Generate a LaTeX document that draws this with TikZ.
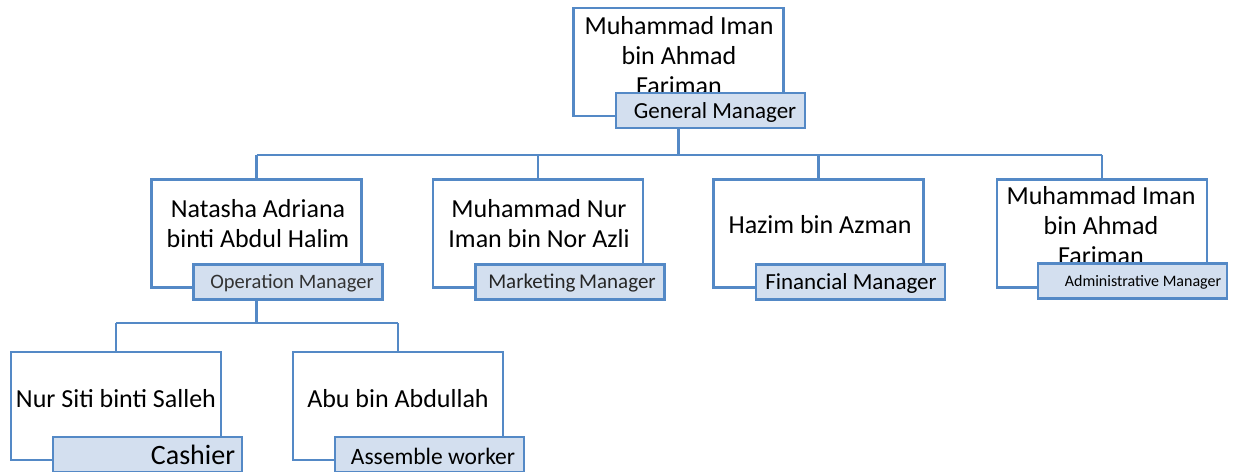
\documentclass[tikz,border=0pt]{standalone}
\usepackage{fontspec}
\setmainfont{Carlito}
\definecolor{bblue}{RGB}{84,137,198}
\definecolor{lfill}{RGB}{211,223,239}
\begin{document}
\begin{tikzpicture}[x=1pt,y=-1pt,
  namebox/.style={draw=bblue, line width=2.6pt, fill=white, minimum width=210pt, minimum height=108pt, inner sep=0pt},
  rolebox/.style={draw=bblue, line width=2.6pt, fill=lfill, minimum width=189pt, minimum height=35pt, inner sep=0pt},
  nametext/.style={font=\fontsize{26}{30}\selectfont, align=center, inner sep=0pt, anchor=base},
  roletext/.style={inner sep=0pt, anchor=base},
  link/.style={draw=bblue, line width=2.6pt}]
\useasboundingbox (0,0) rectangle (1233,471);
\fill[white] (0,0) rectangle (1233,471);
\coordinate (bus1) at (0,155);
\coordinate (bus2) at (0,323);
% level 1
\node[namebox] (gm) at (678.5,62) {};
\node[nametext] (gmt) at (679,94) {Muhammad Iman\\bin Ahmad\\Fariman};
\node[rolebox] (gmr) at (710.5,110.5) {};
\node[roletext, font=\fontsize{23}{28}\selectfont] (gmrt) at (715,118) {General Manager};
% level 2
\node[namebox] (op) at (256.5,233.5) {};
\node[nametext] (opt) at (258,247) {Natasha Adriana\\binti Abdul Halim};
\node[rolebox] (opr) at (288,282) {};
\node[roletext, font=\fontsize{20.5}{25}\selectfont, text=black!80] (oprt) at (292,288) {Operation Manager};
\node[namebox] (mk) at (538,233.5) {};
\node[nametext] (mkt) at (539,247) {Muhammad Nur\\Iman bin Nor Azli};
\node[rolebox] (mkr) at (570,282) {};
\node[roletext, font=\fontsize{21}{25}\selectfont, text=black!85] (mkrt) at (572,288) {Marketing\kern-1pt\ Manager};
\node[namebox] (fn) at (818.5,233.5) {};
\node[nametext] (fnt) at (820,233) {Hazim bin Azman};
\node[rolebox] (fnr) at (850.5,282) {};
\node[roletext, font=\fontsize{23}{28}\selectfont] (fnrt) at (851,289) {Financial Manager};
\node[namebox] (ad) at (1102,233.5) {};
\node[nametext] (adt) at (1101,264.5) {Muhammad Iman\\bin Ahmad\\Fariman};
\node[rolebox] (adr) at (1132.5,281) {};
\node[roletext, font=\fontsize{16}{20}\selectfont] (adrt) at (1143,286) {Administrative Manager};
% level 3
\node[namebox] (ca) at (116,406) {};
\node[nametext] (cat) at (116,407) {Nur Siti binti Salleh};
\node[rolebox] (car) at (147.5,454.5) {};
\node[roletext, font=\fontsize{28}{32}\selectfont] (cart) at (193,464) {Cashier};
\node[namebox] (ab) at (398,406) {};
\node[nametext] (abt) at (398,407) {Abu bin Abdullah};
\node[rolebox] (abr) at (429.5,454.5) {};
\node[roletext, font=\fontsize{23.5}{28}\selectfont] (abrt) at (433,464) {Assemble worker};
% connectors
\draw[link] (gm.center |- gmr.south) -- (gm.center |- bus1);
\draw[link] (op.north |- bus1) -- (ad.north |- bus1);
\draw[link] (op.north |- bus1) -- (op.north);
\draw[link] (mk.north |- bus1) -- (mk.north);
\draw[link] (fn.north |- bus1) -- (fn.north);
\draw[link] (ad.north |- bus1) -- (ad.north);
\draw[link] (op.center |- opr.south) -- (op.center |- bus2);
\draw[link] (ca.north |- bus2) -- (ab.north |- bus2);
\draw[link] (ca.north |- bus2) -- (ca.north);
\draw[link] (ab.north |- bus2) -- (ab.north);
\end{tikzpicture}
\end{document}
